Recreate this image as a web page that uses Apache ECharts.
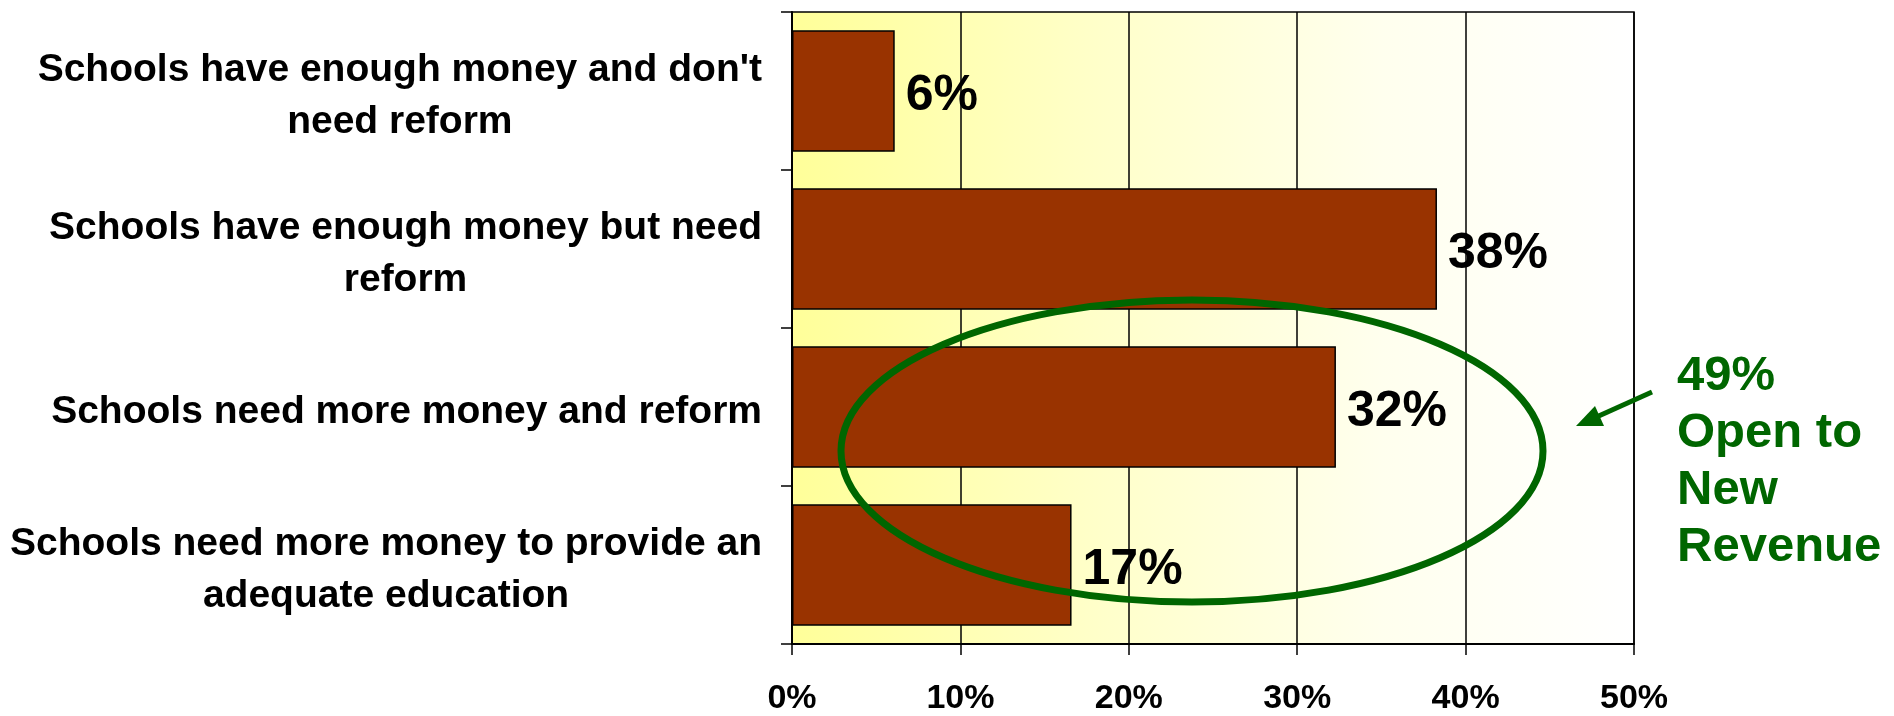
<!DOCTYPE html>
<html>
<head>
<meta charset="utf-8">
<script src="https://cdn.jsdelivr.net/npm/echarts@6/dist/echarts.min.js"></script>
<style>
html,body{margin:0;padding:0;background:#fff;}
#chart{width:1894px;height:716px;}
</style>
</head>
<body>
<div id="chart"></div>
<script>
var categories = [
  "Schools have enough money and don't\nneed reform",
  "Schools have enough money but need\nreform",
  "Schools need more money and reform",
  "Schools need more money to provide an\nadequate education"
];
var values = [6.1, 38.3, 32.3, 16.6];
var xTicks = [0, 10, 20, 30, 40, 50];
var annotationLines = ["49%", "Open to", "New", "Revenue"];

var FONT = "'Liberation Sans', Arial, Helvetica, sans-serif";
var GREEN = "#006600";

var chart = echarts.init(document.getElementById('chart'), null, {renderer: 'canvas'});

var rich = {c: {fontFamily: FONT, fontWeight: 'bold', fontSize: 39, lineHeight: 52, color: '#000', align: 'center'}};

var option = {
  animation: false,
  backgroundColor: '#ffffff',
  grid: {
    left: 792, right: 260, top: 12, bottom: 70,
    show: true,
    borderColor: '#000', borderWidth: 1.5,
    backgroundColor: new echarts.graphic.LinearGradient(0, 0, 1, 0, [
      {offset: 0, color: '#FFFF99'},
      {offset: 0.35, color: '#FFFFC8'},
      {offset: 0.7, color: '#FFFFEE'},
      {offset: 1, color: '#FFFFFF'}
    ])
  },
  xAxis: {
    type: 'value',
    min: xTicks[0], max: xTicks[xTicks.length - 1], interval: 10,
    axisLine: {show: true, lineStyle: {color: '#000', width: 2}},
    axisTick: {show: true, length: 11, lineStyle: {color: '#000', width: 1.5}},
    splitLine: {show: true, lineStyle: {color: '#000', width: 1.5}},
    axisLabel: {
      margin: 38,
      fontFamily: FONT, fontWeight: 'bold', fontSize: 34, color: '#000',
      formatter: function (v) { return v + '%'; }
    }
  },
  yAxis: {
    type: 'category',
    inverse: true,
    data: categories,
    axisLine: {show: true, lineStyle: {color: '#000', width: 2}},
    axisTick: {show: true, length: 11, lineStyle: {color: '#000', width: 1.5}},
    splitLine: {show: false},
    axisLabel: {
      margin: 30,
      align: 'right',
      padding: [10, 0, 0, 0],
      formatter: function (v) {
        return v.split('\n').map(function (l) { return '{c|' + l + '}'; }).join('\n');
      },
      rich: rich
    }
  },
  series: [{
    type: 'bar',
    data: values,
    barCategoryGap: '23%',
    itemStyle: {color: '#993300', borderColor: '#000', borderWidth: 1.5},
    label: {
      show: true, position: 'right', distance: 11,
      offset: [0, 5],
      fontFamily: FONT, fontWeight: 'bold', fontSize: 50, color: '#000',
      formatter: function (p) { return Math.round(p.value) + '%'; }
    },
    z: 2
  }]
};
chart.setOption(option);

// annotation: ellipse, arrow and callout text
var gfx = [
  {
    type: 'ellipse',
    shape: {cx: 1192, cy: 451, rx: 351, ry: 151},
    style: {fill: 'none', stroke: GREEN, lineWidth: 7},
    z: 100
  },
  {
    type: 'line',
    shape: {x1: 1652, y1: 392, x2: 1592, y2: 419},
    style: {stroke: GREEN, lineWidth: 5},
    z: 100
  },
  {
    type: 'polygon',
    shape: {points: [[1576, 426], [1595, 406], [1604, 426]]},
    style: {fill: GREEN},
    z: 100
  }
];
var baselines = [389, 446, 503, 560];
annotationLines.forEach(function (t, i) {
  gfx.push({
    type: 'text',
    left: 1677,
    top: baselines[i] - 37,
    style: {text: t, fill: GREEN, font: 'bold 49px ' + FONT, textVerticalAlign: 'top'},
    z: 100
  });
});
chart.setOption({graphic: gfx});
</script>
</body>
</html>
